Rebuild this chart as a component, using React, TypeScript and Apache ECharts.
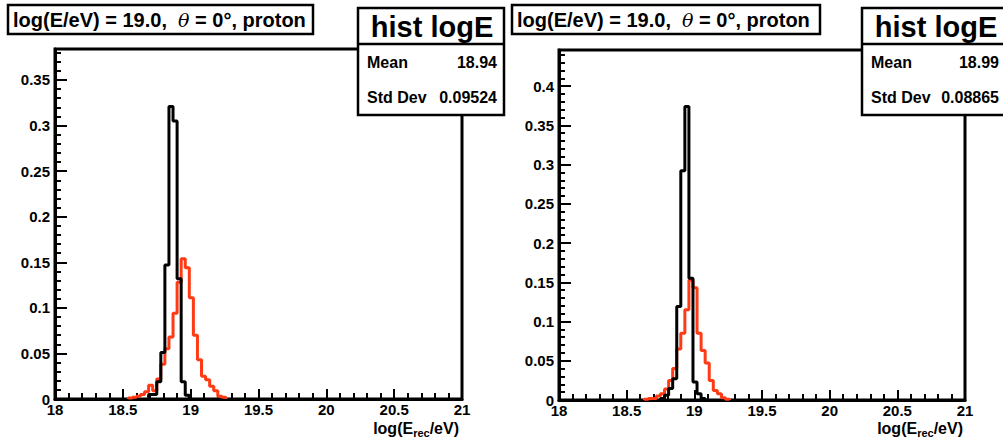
import React, { useEffect, useRef } from 'react';
import * as echarts from 'echarts';

// ---------- data ----------
const BIN_WIDTH = 0.03;
const X_MIN = 18;
const X_MAX = 21;
const xTickInterval = 0.5;
const yTickInterval = 0.05;
const leftYMax = 0.384;
const rightYMax = 0.446;

// left panel
const leftBlackStart = 18.69;
const leftBlackValues = [0.005, 0.005, 0.019, 0.051, 0.147, 0.321, 0.305, 0.132, 0.019, 0.004];
const leftRedStart = 18.54;
const leftRedValues = [
  0.001, 0.002, 0.003, 0.005, 0.008, 0.015, 0.009, 0.022, 0.038, 0.055, 0.068, 0.094,
  0.128, 0.154, 0.144, 0.111, 0.070, 0.043, 0.025, 0.021, 0.014, 0.009, 0.003, 0.002,
];

// right panel
const rightBlackStart = 18.75;
const rightBlackValues = [0.002, 0.006, 0.0145, 0.027, 0.119, 0.292, 0.374, 0.155, 0.023, 0.008, 0.002];
const rightRedStart = 18.63;
const rightRedValues = [
  0.001, 0.002, 0.002, 0.005, 0.008, 0.014, 0.025, 0.040, 0.065, 0.085, 0.115, 0.153,
  0.143, 0.085, 0.063, 0.047, 0.025, 0.012, 0.008, 0.003, 0.001,
];

const titleText = ['log(E/eV) = 19.0,  ', 'θ', ' = 0°, proton'];
const statsName = 'hist logE';
const leftStats = { mean: '18.94', std: '0.09524' };
const rightStats = { mean: '18.99', std: '0.08865' };

// ---------- helpers ----------
const FONT = 'Liberation Sans';
const RED = '#ff3a14';

function stepPoints(start: number, values: number[]): number[][] {
  const pts: number[][] = [];
  const edge = (i: number) => Math.round((start + i * BIN_WIDTH) * 1000) / 1000;
  pts.push([edge(0), 0]);
  values.forEach((v, i) => pts.push([edge(i), v]));
  pts.push([edge(values.length), 0]);
  return pts;
}

function xAxisCfg(gridIndex: number) {
  return {
    type: 'value',
    gridIndex,
    min: X_MIN,
    max: X_MAX,
    interval: xTickInterval,
    axisLine: { show: true, onZero: false, lineStyle: { color: '#000', width: 3 } },
    axisTick: { show: true, inside: true, length: 10, lineStyle: { color: '#000', width: 2 } },
    minorTick: { show: true, splitNumber: 5, length: 6, lineStyle: { color: '#000', width: 2 } },
    axisLabel: { color: '#000', fontFamily: FONT, fontWeight: 'bold', fontSize: 15, margin: 3 },
    splitLine: { show: false },
  };
}

function yAxisCfg(gridIndex: number, max: number) {
  return {
    type: 'value',
    gridIndex,
    min: 0,
    max,
    interval: yTickInterval,
    axisLine: { show: true, lineStyle: { color: '#000', width: 3 } },
    axisTick: { show: true, inside: true, length: 12, lineStyle: { color: '#000', width: 2 } },
    minorTick: { show: true, splitNumber: 5, length: 6, lineStyle: { color: '#000', width: 2 } },
    axisLabel: {
      color: '#000',
      fontFamily: FONT,
      fontWeight: 'bold',
      fontSize: 15,
      margin: 5,
      showMaxLabel: false,
    },
    splitLine: { show: false },
  };
}

function histSeries(idx: number, start: number, values: number[], color: string, z: number) {
  return {
    type: 'line',
    xAxisIndex: idx,
    yAxisIndex: idx,
    step: 'end',
    symbol: 'none',
    data: stepPoints(start, values),
    lineStyle: { color, width: 3 },
    itemStyle: { color },
    z,
    silent: true,
  };
}

function panelGraphics(
  titleX: number,
  titleW: number,
  statsX: number,
  statsW: number,
  stats: { mean: string; std: string },
  axisTitleRight: number,
) {
  const statsRight = statsX + statsW;
  const valueRight = Math.min(statsRight - 7, 999);
  return [
    {
      type: 'rect',
      shape: { x: titleX, y: 5, width: titleW, height: 29 },
      style: { fill: '#fff', stroke: '#000', lineWidth: 2.5 },
      z: 100,
    },
    {
      type: 'text',
      x: titleX + 5,
      y: 20,
      z: 101,
      style: {
        text: `{a|${titleText[0]}}{b|${titleText[1]}}{a|${titleText[2]}}`,
        verticalAlign: 'middle',
        rich: {
          a: { fontFamily: FONT, fontWeight: 'bold', fontSize: 20, fill: '#000' },
          b: { fontFamily: 'DejaVu Serif', fontStyle: 'italic', fontSize: 19, fill: '#000' },
        },
      },
    },
    {
      type: 'rect',
      shape: { x: statsX, y: 8, width: statsW, height: 107 },
      style: { fill: '#fff', stroke: '#000', lineWidth: 2.5 },
      z: 100,
    },
    {
      type: 'line',
      shape: { x1: statsX, y1: 44, x2: statsRight, y2: 44 },
      style: { stroke: '#000', lineWidth: 2.5 },
      z: 101,
    },
    {
      type: 'text',
      x: statsX + 74,
      y: 27,
      z: 101,
      style: {
        text: statsName,
        fontFamily: FONT,
        fontWeight: 'bold',
        fontSize: 29,
        fill: '#000',
        align: 'center',
        verticalAlign: 'middle',
      },
    },
    {
      type: 'text',
      x: statsX + 9,
      y: 62,
      z: 101,
      style: { text: 'Mean', fontFamily: FONT, fontWeight: 'bold', fontSize: 16, fill: '#000', verticalAlign: 'middle' },
    },
    {
      type: 'text',
      x: valueRight,
      y: 62,
      z: 101,
      style: {
        text: stats.mean,
        fontFamily: FONT,
        fontWeight: 'bold',
        fontSize: 16,
        fill: '#000',
        align: 'right',
        verticalAlign: 'middle',
      },
    },
    {
      type: 'text',
      x: statsX + 9,
      y: 97,
      z: 101,
      style: { text: 'Std Dev', fontFamily: FONT, fontWeight: 'bold', fontSize: 16, fill: '#000', verticalAlign: 'middle' },
    },
    {
      type: 'text',
      x: valueRight,
      y: 97,
      z: 101,
      style: {
        text: stats.std,
        fontFamily: FONT,
        fontWeight: 'bold',
        fontSize: 16,
        fill: '#000',
        align: 'right',
        verticalAlign: 'middle',
      },
    },
    {
      type: 'text',
      x: axisTitleRight,
      y: 420,
      z: 101,
      style: {
        text: '{a|log(E}{s|rec}{a|/eV)}',
        align: 'right',
        verticalAlign: 'top',
        rich: {
          a: { fontFamily: FONT, fontWeight: 'bold', fontSize: 16, fill: '#000', verticalAlign: 'top', lineHeight: 17 },
          s: {
            fontFamily: FONT,
            fontWeight: 'bold',
            fontSize: 11,
            fill: '#000',
            verticalAlign: 'top',
            padding: [7, 0, 0, 0],
          },
        },
      },
    },
  ];
}

export default function App() {
  const ref = useRef<HTMLDivElement>(null);

  useEffect(() => {
    if (!ref.current) return;
    const chart = echarts.init(ref.current, undefined, { renderer: 'svg' });
    const option = {
      animation: false,
      backgroundColor: '#fff',
      grid: [
        { left: 55, top: 49, width: 407, height: 350, show: true, borderColor: '#000', borderWidth: 3 },
        { left: 559, top: 50, width: 406, height: 350, show: true, borderColor: '#000', borderWidth: 3 },
      ],
      xAxis: [xAxisCfg(0), xAxisCfg(1)],
      yAxis: [yAxisCfg(0, leftYMax), yAxisCfg(1, rightYMax)],
      series: [
        histSeries(0, leftRedStart, leftRedValues, RED, 2),
        histSeries(0, leftBlackStart, leftBlackValues, '#000', 3),
        histSeries(1, rightRedStart, rightRedValues, RED, 2),
        histSeries(1, rightBlackStart, rightBlackValues, '#000', 3),
      ],
      graphic: [
        ...panelGraphics(8, 305, 358, 146, leftStats, 459),
        ...panelGraphics(512, 308, 862, 146, rightStats, 963),
      ],
    };
    chart.setOption(option as any);
    return () => chart.dispose();
  }, []);

  return (
    <div
      ref={ref}
      style={{ position: 'absolute', left: 0, top: 0, width: 1003, height: 437, background: '#fff' }}
    />
  );
}
